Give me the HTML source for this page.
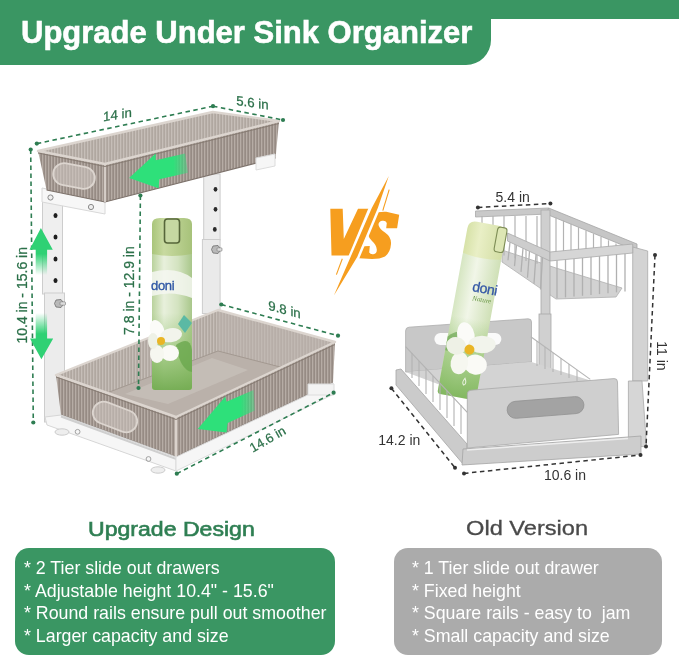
<!DOCTYPE html>
<html><head><meta charset="utf-8">
<style>
html,body{margin:0;padding:0;background:#fff;}
body{width:679px;height:657px;position:relative;overflow:hidden;font-family:"Liberation Sans",sans-serif;}
.abs{position:absolute;}
#bar{left:0;top:0;width:679px;height:19px;background:#3a9663;}
#tab{left:0;top:0;width:491px;height:65px;background:#3a9663;border-bottom-right-radius:25px;}
#title{left:21px;top:15px;color:#fff;font-weight:bold;-webkit-text-stroke:0.6px #fff;font-size:31px;white-space:nowrap;line-height:36px;}
.h2{font-size:20px;white-space:nowrap;line-height:22px;}
#h2a{left:88px;top:518px;color:#2f7f53;font-size:19.5px;-webkit-text-stroke:0.6px #2f7f53;transform:scaleX(1.183);transform-origin:0 0;}
#h2b{left:466px;top:517px;color:#4a4a4a;font-size:20.3px;-webkit-text-stroke:0.3px #4a4a4a;transform:scaleX(1.165);transform-origin:0 0;}
.box{border-radius:14px;}
#gbox{left:15px;top:548px;width:320px;height:107px;background:#3a9663;}
#rbox{left:394px;top:548px;width:268px;height:107px;background:#ababab;}
.li{color:#fff;font-size:17.8px;white-space:nowrap;line-height:20px;}
svg{position:absolute;left:0;top:0;}
.abs,svg{will-change:transform;}
</style></head>
<body>
<div class="abs" id="bar"></div>
<div class="abs" id="tab"></div>
<div class="abs" id="title">Upgrade Under Sink Organizer</div>

<svg width="679" height="657" viewBox="0 0 679 657">
<defs>
<pattern id="rib" width="3" height="10" patternUnits="userSpaceOnUse">
<rect width="3" height="10" fill="#968b84"/><rect width="1.3" height="10" fill="#b6aca5"/>
</pattern>
<pattern id="ribL" width="3" height="10" patternUnits="userSpaceOnUse">
<rect width="3" height="10" fill="#b0a7a0"/><rect width="1.3" height="10" fill="#c6beb8"/>
</pattern>
<linearGradient id="gup" x1="0" y1="1" x2="0" y2="0"><stop offset="0" stop-color="#2fd174" stop-opacity="0"/><stop offset="0.45" stop-color="#2fd174"/><stop offset="1" stop-color="#2fd174"/></linearGradient>
<linearGradient id="gdn" x1="0" y1="0" x2="0" y2="1"><stop offset="0" stop-color="#2fd174" stop-opacity="0"/><stop offset="0.45" stop-color="#2fd174"/><stop offset="1" stop-color="#2fd174"/></linearGradient>
<linearGradient id="can" x1="0" y1="0" x2="1" y2="0"><stop offset="0" stop-color="#b9d29c"/><stop offset="0.3" stop-color="#e8f0dc"/><stop offset="0.65" stop-color="#d3e3c0"/><stop offset="1" stop-color="#a9c78b"/></linearGradient>
<linearGradient id="canlo" x1="0" y1="0" x2="0" y2="1"><stop offset="0" stop-color="#8fc06c" stop-opacity="0"/><stop offset="0.45" stop-color="#8fc06c" stop-opacity="0"/><stop offset="0.75" stop-color="#8fc06c" stop-opacity="0.75"/><stop offset="1" stop-color="#72ab50" stop-opacity="0.95"/></linearGradient>
<linearGradient id="cap" x1="0" y1="0" x2="1" y2="0"><stop offset="0" stop-color="#a9c57a"/><stop offset="0.3" stop-color="#c8daa0"/><stop offset="1" stop-color="#a7c27a"/></linearGradient>
</defs>
<g id="left">
<!-- right post -->
<rect x="203.7" y="174" width="16.4" height="66" fill="#ededed" stroke="#cdcdcd" stroke-width="1"/>
<rect x="202.4" y="239.5" width="17.7" height="74" fill="#eaeaea" stroke="#cdcdcd" stroke-width="1"/>
<ellipse cx="215.5" cy="189.3" rx="1.9" ry="2.4" fill="#2a2a2a"/><ellipse cx="215.5" cy="209.3" rx="1.9" ry="2.4" fill="#2a2a2a"/><ellipse cx="214.8" cy="229.4" rx="1.9" ry="2.4" fill="#2a2a2a"/>
<polygon points="213,246 218,245.5 221,249.5 218,253.5 213,253 211.5,249.5" fill="#b9b9b9" stroke="#6e6e6e" stroke-width="0.8"/><rect x="217" y="247.8" width="5" height="3.4" rx="1" fill="#dcdcdc" stroke="#777" stroke-width="0.6"/>
<!-- left post -->
<rect x="42.5" y="190" width="20" height="104" fill="#efefef" stroke="#cdcdcd" stroke-width="1"/>
<rect x="44.5" y="293" width="20" height="129" fill="#ececec" stroke="#cdcdcd" stroke-width="1"/>
<ellipse cx="55.5" cy="215.5" rx="2" ry="2.5" fill="#1e1e1e"/><ellipse cx="55.5" cy="237" rx="2" ry="2.5" fill="#1e1e1e"/><ellipse cx="55.5" cy="259" rx="2" ry="2.5" fill="#1e1e1e"/><ellipse cx="55.5" cy="280.5" rx="2" ry="2.5" fill="#1e1e1e"/>
<polygon points="56,300 61,299.5 64,303.5 61,307.5 56,307 54.5,303.5" fill="#b9b9b9" stroke="#6e6e6e" stroke-width="0.8"/><rect x="60" y="301.8" width="5.5" height="3.4" rx="1" fill="#dcdcdc" stroke="#777" stroke-width="0.6"/>
<!-- upper bracket -->
<polygon points="42,188 105,200 105,214 42,202" fill="#f7f7f7" stroke="#d8d8d8" stroke-width="1"/>
<circle cx="50.5" cy="197.5" r="2.6" fill="#eee" stroke="#8a8a8a" stroke-width="1"/>
<circle cx="91" cy="207" r="2.6" fill="#eee" stroke="#8a8a8a" stroke-width="1"/>
<!-- upper tray -->
<polygon points="38,151 212.8,112 279,121 105,164" fill="url(#ribL)"/>
<polygon points="38,151 105,164 105,202 46.6,190" fill="url(#rib)"/>
<polygon points="105,164 279,121 275.6,158 105,202" fill="url(#rib)"/>
<polyline points="46.6,190 105,202 275.6,158" fill="none" stroke="#7d726b" stroke-width="1.2"/>
<polyline points="105,164 105,202" fill="none" stroke="#d9d1cb" stroke-width="1.8"/>
<polygon points="38,151 212.8,112 279,121 105,164" fill="none" stroke="#dcd5cf" stroke-width="2.4" stroke-linejoin="round"/>
<polyline points="38,153 105,166.5 279,123.5" fill="none" stroke="#83786f" stroke-width="0.9"/>
<rect x="53" y="165" width="42" height="22" rx="11" transform="rotate(11 74 176)" fill="#d3ccc6" fill-opacity="0.55" stroke="#dcd5cf" stroke-width="1.8"/>
<polygon points="256,158 275,154 275,166 256,170" fill="#f6f6f6" stroke="#dcdcdc" stroke-width="1"/>
<!-- lower tray -->
<polygon points="56,375 218,310 335,342 176,417" fill="url(#ribL)"/>
<polygon points="218,310 335,342 282,366.8 218,351" fill="#bdb5ae" opacity="0.55"/>
<polygon points="104,394 218,351 284,368 176,417" fill="#bab1aa"/>
<polygon points="125,394 212,358 248,370 168,404" fill="#cbc4be" opacity="0.6"/>
<polyline points="104,394 218,351 284,368" fill="none" stroke="#a39991" stroke-width="1"/>
<polygon points="56,375 176,417 176,457 61,415" fill="url(#rib)"/>
<polygon points="176,417 335,342 333,383 176,457" fill="url(#rib)"/>
<polyline points="61,415 176,457 333,383" fill="none" stroke="#7d726b" stroke-width="1.3"/>
<polyline points="176,417 176,457" fill="none" stroke="#dad2cc" stroke-width="2"/>
<polygon points="56,375 218,310 335,342 176,417" fill="none" stroke="#dcd5cf" stroke-width="2.4" stroke-linejoin="round"/>
<polyline points="56,377 176,419.5 335,344.5" fill="none" stroke="#83786f" stroke-width="0.9"/>
<rect x="92" y="406" width="46" height="22" rx="11" transform="rotate(21 115 417)" fill="#d3ccc6" fill-opacity="0.55" stroke="#dcd5cf" stroke-width="1.8"/>
<!-- bottom frame -->
<polygon points="45,417 61,415 176,457 176,471 47,425" fill="#f6f6f6" stroke="#d6d6d6" stroke-width="1"/>
<polyline points="61,416.5 176,459 333,385" fill="none" stroke="#cfcfcf" stroke-width="2"/>
<polygon points="176,457 333,383 334,394 176,471" fill="#f6f6f6" stroke="#dcdcdc" stroke-width="1"/>
<polygon points="308,384 334,384 334,395 308,395" fill="#f3f3f3" stroke="#dcdcdc" stroke-width="1"/>
<ellipse cx="62" cy="432" rx="7" ry="3.2" fill="#eee" stroke="#ccc"/>
<ellipse cx="158" cy="470" rx="7" ry="3.2" fill="#eee" stroke="#ccc"/>
<circle cx="77.6" cy="431.8" r="2.4" fill="none" stroke="#999" stroke-width="0.9"/>
<circle cx="148.5" cy="459" r="2.4" fill="none" stroke="#999" stroke-width="0.9"/>
<!-- spray can -->
<rect x="152" y="250" width="40" height="140" rx="3" fill="url(#can)"/>
<rect x="152" y="250" width="40" height="140" rx="3" fill="url(#canlo)"/>
<path d="M152,224 Q152,218 160,218 L184,218 Q192,218 192,224 L192,254 Q172,258 152,254 Z" fill="url(#cap)"/>
<rect x="164.5" y="219" width="15" height="24" rx="3" fill="#c6d8a2" stroke="#56663a" stroke-width="1.6"/>
<path d="M152,272 Q176,266 192,278 L192,298 Q172,290 152,296 Z" fill="#f4f7f1" opacity="0.85"/>
<text x="151" y="290" font-family="Liberation Sans" font-size="13" fill="#2f57a5" stroke="#2f57a5" stroke-width="0.35" letter-spacing="-0.3">doni</text>
<polygon points="184,315 192,323 185,333 178,324" fill="#5bb9a4"/>
<path d="M176,345 Q190,335 192,350 L192,372 Q180,370 176,345 Z" fill="#6aa84d" opacity="0.8"/>
<g transform="translate(161,341)">
<ellipse cx="0" cy="-11" rx="7" ry="11" fill="#fbfbf8" transform="rotate(-20)"/>
<ellipse cx="11" cy="-4" rx="11" ry="7" fill="#f2f4ec" transform="rotate(-10)"/>
<ellipse cx="9" cy="12" rx="9" ry="8" fill="#fafaf6"/>
<ellipse cx="-4" cy="13" rx="7" ry="9" fill="#f6f7f0"/>
<ellipse cx="-8" cy="0" rx="5" ry="8" fill="#eef1e6"/>
<circle cx="0" cy="0" r="4" fill="#e9b526"/>
</g>
</g>

<!-- dimension lines left -->
<g stroke="#2e7d52" stroke-width="1.6" stroke-dasharray="4.5 3.5" fill="none">
<line x1="36.8" y1="143.6" x2="213" y2="106.2"/>
<line x1="213" y1="106.2" x2="283" y2="120"/>
<line x1="30.7" y1="149.5" x2="33.3" y2="422.5"/>
<line x1="140.4" y1="195.5" x2="138.5" y2="388"/>
<line x1="221.3" y1="304.5" x2="338" y2="335.7"/>
<line x1="176.8" y1="473.7" x2="333.6" y2="392.7"/>
</g>
<g fill="#2e7d52">
<circle cx="36.8" cy="143.6" r="2.1"/><circle cx="213" cy="106.2" r="2.1"/><circle cx="283" cy="120" r="2.1"/>
<circle cx="30.7" cy="149.5" r="2.1"/><circle cx="33.3" cy="422.5" r="2.1"/>
<circle cx="140.4" cy="195.5" r="2.1"/><circle cx="138.5" cy="388" r="2.1"/>
<circle cx="221.3" cy="304.5" r="2.1"/><circle cx="338" cy="335.7" r="2.1"/>
<circle cx="176.8" cy="473.7" r="2.1"/><circle cx="333.6" cy="392.7" r="2.1"/>
</g>
<g fill="#2b7049" stroke="#2b7049" stroke-width="0.25" font-family="Liberation Sans" font-size="13.3" text-anchor="middle">
<text transform="translate(117.4,119.2) skewY(-9.5)">14 in</text>
<text transform="translate(252.4,107.3) skewY(8.4)">5.6 in</text>
<text font-size="14" transform="translate(26.5,295.3) rotate(-90)">10.4 in - 15.6 in</text>
<text font-size="14" transform="translate(133.7,290.6) rotate(-90)">7.8 in - 12.9 in</text>
<text transform="translate(284.5,314.1) skewY(14.8)">9.8 in</text>
<text font-size="13" transform="translate(269.8,443) rotate(-29.8)">14.6 in</text>
</g>
<!-- green arrows -->
<defs>
<linearGradient id="ar1" x1="0" y1="0" x2="1" y2="0"><stop offset="0" stop-color="#2ee07a"/><stop offset="0.75" stop-color="#2ee07a"/><stop offset="1" stop-color="#2ee07a" stop-opacity="0.35"/></linearGradient>
</defs>
<polygon points="129.1,177.9 155.7,153.6 155.7,160.2 185.1,153.6 188,172.7 159.3,179.3 158.6,188.2" fill="url(#ar1)"/>
<polygon points="197.7,428.9 225.3,396.5 226.5,401.8 253.6,390 254.8,410.6 227.7,423 226.5,432.4" fill="url(#ar1)"/>
<polygon points="40.9,228 52.8,249.7 47.1,249.7 47.1,275 35.7,275 35.7,249.7 29.5,249.7" fill="url(#gup)"/>
<polygon points="41.4,359.2 53.2,338.6 47.1,338.6 47.1,313 35.7,313 35.7,338.6 30,338.6" fill="url(#gdn)"/>

<!-- VS logo -->
<g id="vs" fill="#f69e1f">
<polygon points="330.3,208.8 342.7,208.8 343.8,238.9 358,208.8 369.8,208.8 352.1,255.4 331.5,255.4"/>
<path d="M399.2,214.7 L397.1,228.3 L386.2,228.3 L386.8,223 Q385.5,220 382,220.8 Q378,222 378.6,225.3 Q379.5,229 385,232.5 Q391.5,237 391,244 Q390.5,252 385,256.5 Q380,259 372,259 L359.2,258.3 Q356.5,257.5 356.8,255.4 L358.6,246.5 L369.8,245.9 L369.2,252.5 Q370.5,254.6 373.3,254.2 Q377,253.5 376.8,249.5 Q376.5,245 372,241 Q366.5,236 366.8,227.5 Q367.5,217.5 373,213.8 Q378,211.5 386.2,211.8 Z"/>
</g>
<polygon points="389.5,172 380.5,208 359.5,258 333,299 348.5,256 368.5,208" fill="#fff"/>
<polygon points="388.8,176 377.8,208 357.2,257 333.9,295.4 351,256 371.8,208" fill="#f69e1f"/>
<line x1="389.2" y1="189.6" x2="382.8" y2="210.6" stroke="#f69e1f" stroke-width="1.1"/>
<line x1="342.3" y1="258.8" x2="336.4" y2="274.6" stroke="#f69e1f" stroke-width="1.1"/>
<!-- right product -->
<g id="right">
<!-- upper basket back rail & right rail -->
<polygon points="475.5,211 548.7,208 548.7,214 475.5,217" fill="#c9c9c9" stroke="#a9a9a9" stroke-width="0.8"/>
<polygon points="548.7,208 637,244 637,251 546,214" fill="#c6c6c6" stroke="#a5a5a5" stroke-width="0.8"/>
<!-- basket shelf -->
<polygon points="502,250 556,268 622,288 616,297 556,299 502,262" fill="#d2d2d2" stroke="#b0b0b0" stroke-width="0.8"/>
<!-- back wires -->
<g stroke="#b3b3b3" stroke-width="1.2">
<line x1="482" y1="216" x2="482" y2="250.0"/>
<line x1="493" y1="216" x2="493" y2="252.8"/>
<line x1="504" y1="216" x2="504" y2="255.5"/>
<line x1="515" y1="216" x2="515" y2="258.2"/>
<line x1="526" y1="216" x2="526" y2="261.0"/>
<line x1="537" y1="216" x2="537" y2="263.8"/>
<line x1="556.0" y1="217.2" x2="556.0" y2="257.4"/>
<line x1="563.5" y1="220.5" x2="563.5" y2="256.6"/>
<line x1="571.0" y1="223.8" x2="571.0" y2="255.9"/>
<line x1="578.5" y1="227.1" x2="578.5" y2="255.2"/>
<line x1="586.0" y1="230.4" x2="586.0" y2="254.4"/>
<line x1="593.5" y1="233.7" x2="593.5" y2="253.7"/>
<line x1="601.0" y1="237.0" x2="601.0" y2="252.9"/>
<line x1="608.5" y1="240.3" x2="608.5" y2="252.2"/>
<line x1="616.0" y1="243.6" x2="616.0" y2="251.4"/>
<line x1="623.5" y1="246.9" x2="623.5" y2="250.7"/>
</g>
<!-- inner center post -->
<rect x="541" y="210" width="9" height="106" fill="#cfcfcf" stroke="#a8a8a8" stroke-width="0.8"/>
<rect x="539" y="314" width="12" height="64" fill="#d0d0d0" stroke="#a8a8a8" stroke-width="0.8"/>
<!-- right post -->
<polygon points="632.7,247 647.7,251 647.7,381 632.7,381" fill="#d3d3d3" stroke="#a9a9a9" stroke-width="0.8"/>
<polygon points="628.4,381 642,381 646.6,446.6 628.4,446.6" fill="#d6d6d6" stroke="#a9a9a9" stroke-width="0.8"/>
<!-- left side rail of basket + front rail -->
<g stroke="#b0b0b0" stroke-width="1.3">
<line x1="510.0" y1="242.2" x2="508.0" y2="260.2"/>
<line x1="516.5" y1="245.2" x2="514.5" y2="266.1"/>
<line x1="523.0" y1="248.3" x2="521.0" y2="271.9"/>
<line x1="529.5" y1="251.3" x2="527.5" y2="277.8"/>
<line x1="536.0" y1="254.4" x2="534.0" y2="283.6"/>
<line x1="542.5" y1="257.4" x2="540.5" y2="289.5"/>
<line x1="557.0" y1="260.3" x2="557.0" y2="298.3"/>
<line x1="565.5" y1="259.4" x2="565.5" y2="297.4"/>
<line x1="574.0" y1="258.6" x2="574.0" y2="296.6"/>
<line x1="582.5" y1="257.8" x2="582.5" y2="295.8"/>
<line x1="591.0" y1="256.9" x2="591.0" y2="294.9"/>
<line x1="599.5" y1="256.1" x2="599.5" y2="294.1"/>
<line x1="608.0" y1="255.2" x2="608.0" y2="293.2"/>
<line x1="616.5" y1="254.3" x2="616.5" y2="292.4"/>
<line x1="625.0" y1="253.5" x2="625.0" y2="291.5"/>
</g>
<polygon points="507.5,233 550,252 550,261 507.5,241" fill="#cdcdcd" stroke="#a9a9a9" stroke-width="0.8"/>
<polygon points="550,252 632.7,244 632.7,253 550,261" fill="#d6d6d6" stroke="#aaaaaa" stroke-width="0.8"/>
<!-- drawer back panel -->
<path d="M405.6,331 Q405.6,327.4 409,327.2 L528,318.8 Q531.5,318.6 531.5,322 L531.5,362 L405.6,372 Z" fill="#c8c8c8" stroke="#adadad" stroke-width="0.8"/>
<rect x="434.4" y="333" width="67" height="12" rx="6" fill="#fafafa"/>
<!-- drawer floor -->
<polygon points="405.6,372 531.5,362 592,381 470,396" fill="#d3d3d3"/>
<!-- right wire side -->
<g stroke="#b5b5b5" stroke-width="1.1" fill="none">
<line x1="530.8" y1="336.7" x2="590.3" y2="379.4"/>
<line x1="537" y1="341" x2="537" y2="366"/><line x1="545" y1="347" x2="545" y2="369"/><line x1="553" y1="353" x2="553" y2="372"/><line x1="561" y1="358" x2="561" y2="375"/><line x1="569" y1="364" x2="569" y2="378"/><line x1="577" y1="370" x2="577" y2="381"/>
</g>
<g transform="translate(456.5,397) rotate(10.3)">
<rect x="-19.5" y="-145" width="39" height="145" rx="3" fill="url(#can2)"/>
<rect x="-19.5" y="-145" width="39" height="145" rx="3" fill="url(#can2lo)"/>
<path d="M-19.5,-168 Q-19.5,-176 -11,-176 L11,-176 Q19.5,-176 19.5,-168 L19.5,-143 Q0,-139 -19.5,-143 Z" fill="url(#cap2)"/>
<rect x="10.5" y="-175" width="9.5" height="25" rx="3" fill="#dde6b4" stroke="#7d8c55" stroke-width="1.1"/>
<text x="-4" y="-107" font-family="Liberation Sans" font-size="14" fill="#3457a6" stroke="#3457a6" stroke-width="0.3" letter-spacing="-0.4">doni</text>
<text x="-2" y="-98" font-family="Liberation Serif" font-style="italic" font-size="7" fill="#6d9a4a">Nature</text>
<path d="M-19.5,-58 Q-6,-72 0,-56 Q-10,-44 -19.5,-44 Z" fill="#5f9f45" opacity="0.6"/>
<g transform="translate(3,-49) scale(1.25)">
<ellipse cx="0" cy="-11" rx="7" ry="11" fill="#fbfbf8" transform="rotate(-20)"/>
<ellipse cx="11" cy="-4" rx="11" ry="7" fill="#f2f4ec" transform="rotate(-10)"/>
<ellipse cx="8" cy="11" rx="9" ry="8" fill="#fafaf6"/>
<ellipse cx="-5" cy="12" rx="7" ry="9" fill="#f6f7f0"/>
<ellipse cx="-10" cy="-1" rx="8" ry="7" fill="#eef1e6"/>
<circle cx="1" cy="0" r="4" fill="#e9b526"/>
</g>
<path d="M5,-20 Q8,-15 5,-13 Q2,-15 5,-20 Z" fill="none" stroke="#eaf2e0" stroke-width="1"/>
</g>
<!-- base left rail -->
<polygon points="396,370 401,369 467,444 467,464 463,464 396,385" fill="#cbcbcb" stroke="#a5a5a5" stroke-width="0.8"/>
<!-- left wire side -->
<g stroke="#b3b3b3" stroke-width="1.1" fill="none">
<line x1="405.6" y1="346.6" x2="467.3" y2="412.3"/>
<line x1="412" y1="353" x2="412" y2="378"/><line x1="419" y1="361" x2="419" y2="386"/><line x1="426" y1="368" x2="426" y2="394"/><line x1="433" y1="376" x2="433" y2="402"/><line x1="440" y1="383" x2="440" y2="410"/><line x1="447" y1="391" x2="447" y2="418"/><line x1="454" y1="398" x2="454" y2="426"/><line x1="461" y1="405" x2="461" y2="434"/>
</g>
<!-- base front bar -->
<polygon points="463,449 628,437 641,436 641,454 462,465" fill="#cdcdcd" stroke="#a5a5a5" stroke-width="0.8"/>
<line x1="467" y1="450" x2="628" y2="438.5" stroke="#ededed" stroke-width="1.4"/>
<!-- front panel -->
<path d="M467.3,394 Q467.3,390.4 471,390.2 L614,378.6 Q617.5,378.4 617.5,382 L618.6,434.4 L467.3,448 Z" fill="#cfcfcf" stroke="#a9a9a9" stroke-width="0.8"/>
<rect x="507" y="399" width="77" height="17" rx="8.5" transform="rotate(-4.5 545 407)" fill="#a3a3a3" stroke="#929292" stroke-width="0.8"/>
</g>
<!-- right dims -->
<g stroke="#333" stroke-width="1.5" stroke-dasharray="4.5 3.5" fill="none">
<line x1="477.9" y1="207.4" x2="550.4" y2="203.6"/>
<line x1="655" y1="255" x2="646" y2="446.6"/>
<line x1="391.4" y1="388.2" x2="455" y2="467.7"/>
<line x1="464" y1="473.4" x2="640.5" y2="455"/>
</g>
<g fill="#333">
<circle cx="477.9" cy="207.4" r="2"/><circle cx="550.4" cy="203.6" r="2"/>
<circle cx="655" cy="255" r="2"/><circle cx="646" cy="446.6" r="2"/>
<circle cx="391.4" cy="388.2" r="2"/><circle cx="455" cy="467.7" r="2"/>
<circle cx="464" cy="473.4" r="2"/><circle cx="640.5" cy="455" r="2"/>
</g>
<g fill="#333" font-family="Liberation Sans" font-size="14" text-anchor="middle">
<text x="512.7" y="201.7">5.4 in</text>
<text transform="translate(656.5,355.9) rotate(90)">11 in</text>
<text x="399.3" y="445">14.2 in</text>
<text x="565" y="480">10.6 in</text>
</g>
<!-- tilted can -->
<defs>
<linearGradient id="can2" x1="0" y1="0" x2="1" y2="0"><stop offset="0" stop-color="#d6e6c2"/><stop offset="0.4" stop-color="#f1f6e8"/><stop offset="1" stop-color="#cfe0b6"/></linearGradient>
<linearGradient id="can2lo" x1="0" y1="0" x2="0" y2="1"><stop offset="0" stop-color="#97c675" stop-opacity="0"/><stop offset="0.45" stop-color="#97c675" stop-opacity="0"/><stop offset="0.7" stop-color="#97c675" stop-opacity="0.7"/><stop offset="1" stop-color="#7db55a" stop-opacity="0.95"/></linearGradient>
<linearGradient id="cap2" x1="0" y1="0" x2="1" y2="0"><stop offset="0" stop-color="#d7e2a8"/><stop offset="0.35" stop-color="#e9efc6"/><stop offset="1" stop-color="#d3dea4"/></linearGradient>
</defs>
</svg>

<div class="abs h2" id="h2a">Upgrade Design</div>
<div class="abs h2" id="h2b">Old Version</div>
<div class="abs box" id="gbox"></div>
<div class="abs box" id="rbox"></div>
<div class="abs li" style="left:24px;top:558px">* 2 Tier slide out drawers</div>
<div class="abs li" style="left:24px;top:580.5px">* Adjustable height 10.4" - 15.6"</div>
<div class="abs li" style="left:24px;top:603px">* Round rails ensure pull out smoother</div>
<div class="abs li" style="left:24px;top:626px">* Larger capacity and size</div>
<div class="abs li" style="left:412px;top:558px">* 1 Tier slide out drawer</div>
<div class="abs li" style="left:412px;top:580.5px">* Fixed height</div>
<div class="abs li" style="left:412px;top:603px">* Square rails - easy to &nbsp;jam</div>
<div class="abs li" style="left:412px;top:626px">* Small capacity and size</div>
</body></html>
